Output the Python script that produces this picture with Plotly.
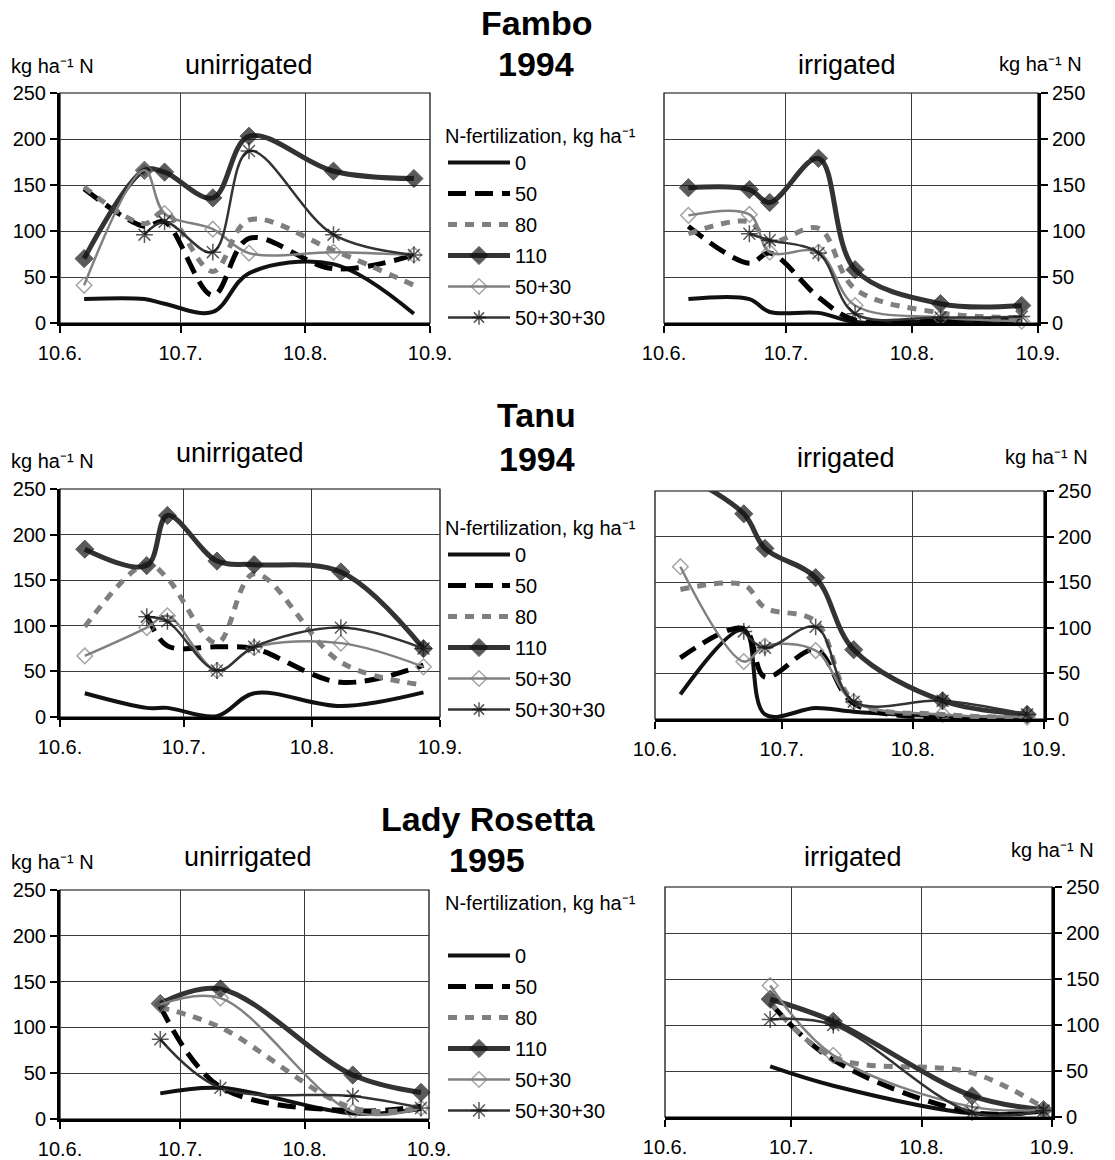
import plotly.graph_objects as go

W, H = 1115, 1160
FONT = "Liberation Sans, Arial, sans-serif"

# ---------------- data ----------------
series_names = ["0", "50", "80", "110", "50+30", "50+30+30"]

dates_1994 = ["1994-06-16", "1994-07-01", "1994-07-06", "1994-07-18",
              "1994-07-27", "1994-08-17", "1994-09-06"]
dates_1995 = ["1995-07-05", "1995-07-20", "1995-08-22", "1995-09-08"]

tick_labels = ["10.6.", "10.7.", "10.8.", "10.9."]
tick_days = ["06-10", "07-10", "08-10", "09-10"]
y_ticks = [0, 50, 100, 150, 200, 250]

# Fambo 1994, unirrigated
fambo_u_0 = [26, 26, 21, 12, 54, 64, 10]
fambo_u_50 = [146, 105, 110, 30, 92, 59, 74]
fambo_u_80 = [148, 108, 121, 56, 112, 79, 41]
fambo_u_110 = [70, 166, 164, 136, 203, 165, 157]
fambo_u_5030 = [41, 166, 119, 102, 76, 77, 74]
fambo_u_503030 = [None, 96, 110, 77, 187, 96, 74]

# Fambo 1994, irrigated
fambo_i_0 = [26, 26, 12, 11, 1, 2, 2]
fambo_i_50 = [105, 65, 76, 28, 3, 3, 3]
fambo_i_80 = [97, 110, 88, 103, 37, 11, 6]
fambo_i_110 = [147, 145, 131, 179, 58, 21, 19]
fambo_i_5030 = [117, 118, 77, 77, 19, 6, 2]
fambo_i_503030 = [None, 97, 90, 76, 10, 6, 7]

# Tanu 1994, unirrigated
tanu_u_0 = [26, 10, 10, 1, 26, 12, 27]
tanu_u_50 = [None, 112, 78, 77, 75, 38, 57]
tanu_u_80 = [99, 168, 152, 81, 157, 60, 35]
tanu_u_110 = [184, 166, 221, 171, 167, 159, 75]
tanu_u_5030 = [67, 98, 111, 51, 76, 81, 55]
tanu_u_503030 = [None, 110, 105, 51, 77, 98, 75]

# Tanu 1994, irrigated
tanu_i_0 = [27, 98, 5, 12, 8, 3, 1]
tanu_i_50 = [67, 99, 46, 76, 17, 1, 1]
tanu_i_80 = [142, 147, 122, 107, 20, 5, 2]
tanu_i_110 = [270, 225, 187, 155, 76, 20, 5]
tanu_i_5030 = [167, 63, 80, 75, 19, 5, 2]
tanu_i_503030 = [None, 96, 78, 101, 19, 20, 5]

# Lady Rosetta 1995, unirrigated
rosetta_u_0 = [28, 34, 6, 11]
rosetta_u_50 = [123, 35, 9, 14]
rosetta_u_80 = [122, 100, 12, 12]
rosetta_u_110 = [126, 142, 48, 29]
rosetta_u_5030 = [125, 132, 8, 12]
rosetta_u_503030 = [87, 34, 25, 12]

# Lady Rosetta 1995, irrigated
rosetta_i_0 = [55, 34, 4, 6]
rosetta_i_50 = [124, 62, 5, 7]
rosetta_i_80 = [125, 65, 48, 10]
rosetta_i_110 = [128, 104, 23, 8]
rosetta_i_5030 = [143, 67, 11, 8]
rosetta_i_503030 = [106, 100, 5, 7]

# ---------------- styles ----------------
STYLE = {
    "0": dict(line=dict(color="#111111", width=4), mode="lines"),
    "50": dict(line=dict(color="#000000", width=5, dash="18px,9px"), mode="lines"),
    "80": dict(line=dict(color="#7f7f7f", width=5, dash="9px,8px"), mode="lines"),
    "110": dict(line=dict(color="#333333", width=5), mode="lines+markers",
                marker=dict(symbol="diamond", size=14, color="#151515",
                            line=dict(color="#151515", width=1))),
    "50+30": dict(line=dict(color="#808080", width=2.5), mode="lines+markers",
                  marker=dict(symbol="diamond-open", size=12, color="#808080",
                              line=dict(color="#808080", width=1.5))),
    "50+30+30": dict(line=dict(color="#333333", width=2.5), mode="lines+markers",
                     marker=dict(symbol="asterisk-open", size=14, color="#111111",
                                 line=dict(color="#111111", width=1.5))),
}

panels = [
    # (dates, year, series lists, pixel box (x0,x1,y0,y1), side, legend)
    (dates_1994, 1994, [fambo_u_0, fambo_u_50, fambo_u_80, fambo_u_110, fambo_u_5030, fambo_u_503030],
     (60, 430, 93, 323), "left", "legend"),
    (dates_1994, 1994, [fambo_i_0, fambo_i_50, fambo_i_80, fambo_i_110, fambo_i_5030, fambo_i_503030],
     (664, 1038, 93, 323), "right", None),
    (dates_1994, 1994, [tanu_u_0, tanu_u_50, tanu_u_80, tanu_u_110, tanu_u_5030, tanu_u_503030],
     (60, 440, 489, 717), "left", "legend2"),
    (dates_1994, 1994, [tanu_i_0, tanu_i_50, tanu_i_80, tanu_i_110, tanu_i_5030, tanu_i_503030],
     (655, 1044, 491, 719), "right", None),
    (dates_1995, 1995, [rosetta_u_0, rosetta_u_50, rosetta_u_80, rosetta_u_110, rosetta_u_5030, rosetta_u_503030],
     (60, 429, 890, 1119), "left", "legend3"),
    (dates_1995, 1995, [rosetta_i_0, rosetta_i_50, rosetta_i_80, rosetta_i_110, rosetta_i_5030, rosetta_i_503030],
     (665, 1052, 887, 1117), "right", None),
]

fig = go.Figure()
layout = {}
shapes = []

for i, (dates, year, data, box, side, legend) in enumerate(panels, start=1):
    x0, x1, y0, y1 = box
    xa = "x" if i == 1 else f"x{i}"
    ya = "y" if i == 1 else f"y{i}"
    for name, vals in zip(series_names, data):
        st = STYLE[name]
        kw = dict(x=dates, y=vals, name=name, mode=st["mode"],
                  line=dict(shape="spline", smoothing=1.0, **st["line"]),
                  xaxis=xa, yaxis=ya, cliponaxis=False,
                  showlegend=legend is not None,
                  legendgroup=f"{legend or 'n'}_{name}")
        if "marker" in st:
            mk = dict(st["marker"])
            mk["size"] = [st["marker"]["size"] if (v is not None and v <= 250) else 0 for v in vals]
            kw["marker"] = mk
        if legend is not None:
            kw["legend"] = legend
        fig.add_trace(go.Scatter(**kw))

    xkey = "xaxis" if i == 1 else f"xaxis{i}"
    ykey = "yaxis" if i == 1 else f"yaxis{i}"
    layout[xkey] = dict(
        domain=[x0 / W, x1 / W], anchor=ya, type="date", automargin=False,
        range=[f"{year}-06-10", f"{year}-09-10"],
        tickmode="array", tickvals=[f"{year}-{d}" for d in tick_days], ticktext=tick_labels,
        showline=True, linecolor="black", linewidth=3,
        ticks="outside", ticklen=7, tickwidth=2, tickcolor="black",
        showgrid=True, gridcolor="#3a3a3a", gridwidth=1, zeroline=False,
        tickfont=dict(family=FONT, size=20, color="black"), ticklabelstandoff=3,
        fixedrange=True,
    )
    layout[ykey] = dict(
        domain=[1 - y1 / H, 1 - y0 / H], anchor=xa, side=side, automargin=False,
        range=[0, 250], tickmode="array", tickvals=y_ticks,
        showline=True, linecolor="black", linewidth=3,
        ticks="outside", ticklen=7, tickwidth=2, tickcolor="black",
        showgrid=True, gridcolor="#3a3a3a", gridwidth=1, zeroline=False,
        tickfont=dict(family=FONT, size=20, color="black"),
        fixedrange=True,
    )
    shapes.append(dict(type="rect", xref=f"{xa} domain", yref=f"{ya} domain",
                       x0=0, x1=1, y0=0, y1=1, line=dict(color="black", width=1.2),
                       layer="below"))

legend_common = dict(
    xanchor="left", yanchor="top", bgcolor="rgba(0,0,0,0)",
    font=dict(family=FONT, size=20, color="black"),
    title=dict(text="N-fertilization, kg ha⁻¹", font=dict(family=FONT, size=20, color="black")),
    tracegroupgap=2, itemwidth=62, itemclick=False, itemdoubleclick=False,
)
layout["legend"] = dict(x=443 / W, y=1 - 117 / H, **legend_common)
layout["legend2"] = dict(x=443 / W, y=1 - 509 / H, **legend_common)
l3 = dict(legend_common)
l3["title"] = dict(text="N-fertilization, kg ha⁻¹<br> ", font=dict(family=FONT, size=20, color="black"))
layout["legend3"] = dict(x=443 / W, y=1 - 884 / H, **l3)

annotations = []


def ann(text, px, py, size, bold=False):
    annotations.append(dict(
        text=f"<b>{text}</b>" if bold else text, x=px / W, y=1 - py / H,
        xref="paper", yref="paper", xanchor="center", yanchor="middle",
        showarrow=False, font=dict(family=FONT, size=size, color="black")))


ann("Fambo", 536, 23, 34, True)
ann("1994", 536, 64, 34, True)
ann("Tanu", 536, 415, 34, True)
ann("1994", 537, 459, 34, True)
ann("Lady Rosetta", 488, 819, 34, True)
ann("1995", 487, 860, 34, True)

ann("unirrigated", 249, 65, 27)
ann("irrigated", 847, 65, 27)
ann("unirrigated", 240, 453, 27)
ann("irrigated", 846, 458, 27)
ann("unirrigated", 248, 857, 27)
ann("irrigated", 853, 857, 27)

ann("kg ha⁻¹ N", 52, 66, 20)
ann("kg ha⁻¹ N", 1040, 64, 20)
ann("kg ha⁻¹ N", 52, 461, 20)
ann("kg ha⁻¹ N", 1046, 457, 20)
ann("kg ha⁻¹ N", 52, 862, 20)
ann("kg ha⁻¹ N", 1052, 850, 20)

layout.update(dict(
    width=W, height=H, margin=dict(l=0, r=0, t=0, b=0, autoexpand=False),
    paper_bgcolor="white", plot_bgcolor="white",
    font=dict(family=FONT, color="black"),
    annotations=annotations, shapes=shapes,
))
fig.update_layout(**layout)
fig.write_html("out.html", config={"displayModeBar": False})
